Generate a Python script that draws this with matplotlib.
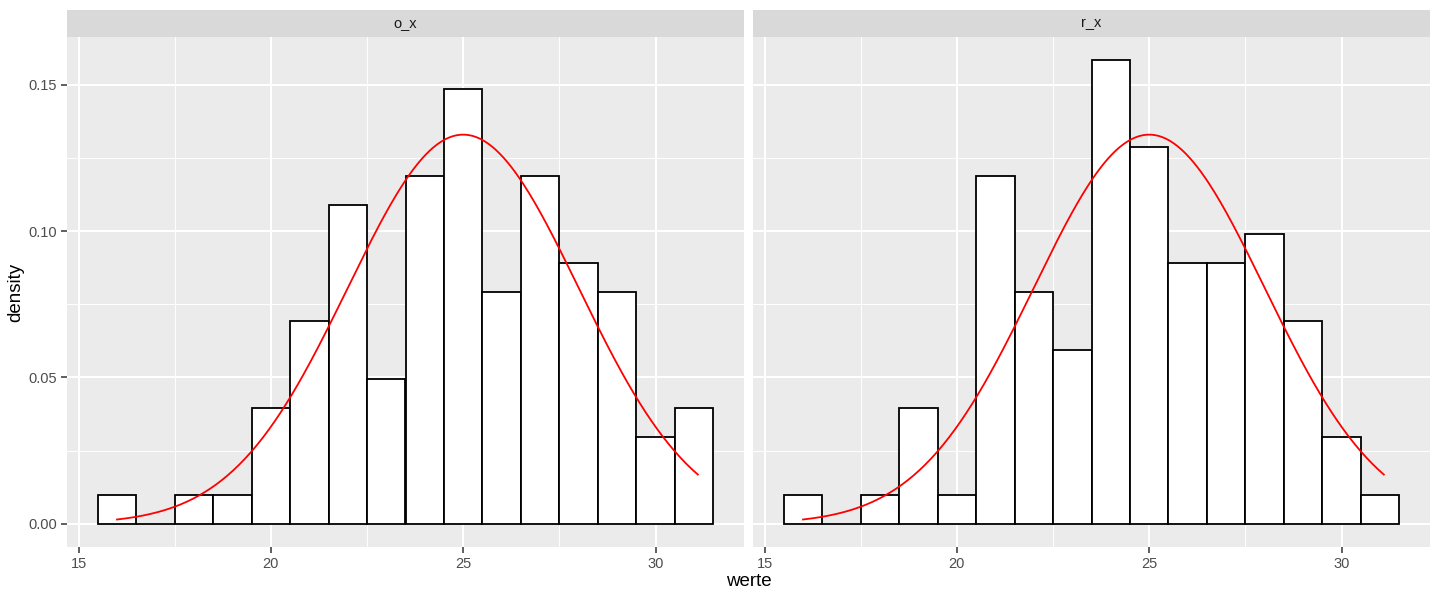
import numpy as np
import matplotlib.pyplot as plt
from matplotlib.ticker import MultipleLocator, FixedLocator

plt.rcParams['font.family'] = ['Liberation Sans', 'DejaVu Sans']

# histogram data: bin centres (width 1) and counts per facet
bin_centers = np.arange(16, 32)
bin_width = 1.0
panels = ["o_x", "r_x"]
counts = {
    "o_x": [1, 0, 1, 1, 4, 7, 11, 5, 12, 15, 8, 12, 9, 8, 3, 4],
    "r_x": [1, 0, 1, 4, 1, 12, 8, 6, 16, 13, 9, 9, 10, 7, 3, 1],
}
# normal curve overlaid (stat_function dnorm)
curve_mean = 25.0
curve_sd = 3.0
curve_range = (16.0, 31.1)

x_ticks = [15, 20, 25, 30]
y_ticks = [0.00, 0.05, 0.10, 0.15]
y_labels = ["0.00", "0.05", "0.10", "0.15"]

fig = plt.figure(figsize=(14.4, 6), dpi=100)

densities = {k: np.array(v) / (np.sum(v) * bin_width) for k, v in counts.items()}
ymax = max(d.max() for d in densities.values())
ylim = (-0.05 * ymax, ymax * 1.05)
lo = bin_centers[0] - bin_width / 2
hi = bin_centers[-1] + bin_width / 2
xlim = (lo - 0.05 * (hi - lo), hi + 0.05 * (hi - lo))

xs = np.linspace(curve_range[0], curve_range[1], 300)
ys = np.exp(-0.5 * ((xs - curve_mean) / curve_sd) ** 2) / (curve_sd * np.sqrt(2 * np.pi))

lefts = [67 / 1440, 753 / 1440]
width = 677 / 1440
bottom = 53 / 600
height = 510 / 600

for i, name in enumerate(panels):
    ax = fig.add_axes([lefts[i], bottom, width, height])
    ax.set_facecolor("#EBEBEB")
    ax.set_xlim(xlim)
    ax.set_ylim(ylim)
    ax.xaxis.set_major_locator(FixedLocator(x_ticks))
    ax.xaxis.set_minor_locator(FixedLocator([17.5, 22.5, 27.5]))
    ax.yaxis.set_major_locator(FixedLocator(y_ticks))
    ax.yaxis.set_minor_locator(FixedLocator([0.025, 0.075, 0.125]))
    ax.grid(which="major", color="white", linewidth=1.5)
    ax.grid(which="minor", color="white", linewidth=0.7)
    ax.set_axisbelow(True)
    for s in ax.spines.values():
        s.set_visible(False)

    ax.bar(bin_centers, densities[name], width=bin_width, color="white",
           edgecolor="black", linewidth=1.3, zorder=2)
    ax.plot(xs, ys, color="red", linewidth=1.3, zorder=3)

    ax.tick_params(which="major", length=4, width=1.1, color="#333333",
                   labelcolor="#4D4D4D", labelsize=10.5, pad=3)
    ax.tick_params(which="minor", length=0)
    ax.set_xticklabels([str(t) for t in x_ticks])
    if i == 0:
        ax.set_yticklabels(y_labels)
    else:
        ax.tick_params(axis="y", which="both", left=False, labelleft=False)

    # facet strip
    sax = fig.add_axes([lefts[i], bottom + height, width, 27 / 600])
    sax.set_facecolor("#D9D9D9")
    sax.set_xticks([])
    sax.set_yticks([])
    for s in sax.spines.values():
        s.set_visible(False)
    sax.text(0.5, 0.5, name, ha="center", va="center", fontsize=10.5,
             color="#1A1A1A", transform=sax.transAxes)

fig.text(749 / 1440, 10 / 600, "werte", ha="center", va="bottom", fontsize=13.5)
fig.text(16 / 1440, bottom + height / 2, "density", ha="center", va="center",
         rotation=90, fontsize=13.5)

fig.savefig("out.png", dpi=100)
